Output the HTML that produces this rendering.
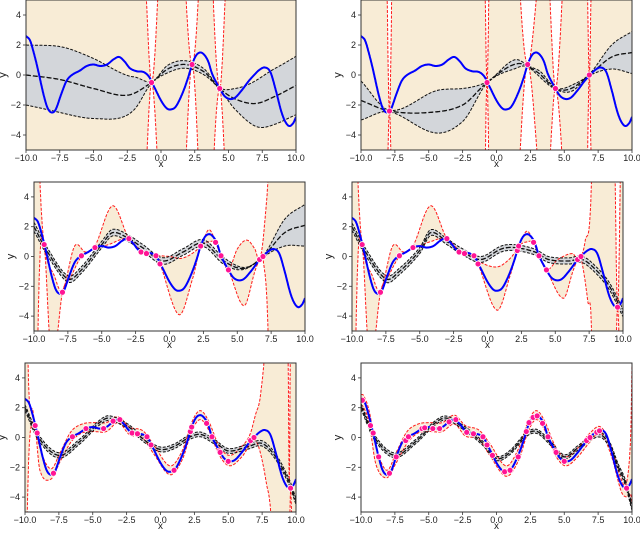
<!DOCTYPE html>
<html><head><meta charset="utf-8">
<style>
html,body{margin:0;padding:0;background:#fff;overflow:hidden;width:640px;height:533px;}
svg{display:block;font-family:"Liberation Sans","DejaVu Sans",sans-serif;}
</style></head>
<body>
<svg id="chart" width="640" height="533" viewBox="0 0 640 533" xmlns="http://www.w3.org/2000/svg"></svg>
<script>
const blueX=[-10,-9.7,-9.4,-9.1,-8.7,-8.4,-8.1,-7.8,-7.4,-7.0,-6.6,-6.0,-5.5,-5.0,-4.5,-4.0,-3.5,-3.1,-2.7,-2.3,-1.8,-1.3,-0.9,-0.5,0,0.4,0.7,1.1,1.6,2.0,2.3,2.6,2.9,3.2,3.5,3.8,4.35,4.7,5.1,5.5,6.0,6.5,6.9,7.3,7.7,8.1,8.5,8.9,9.2,9.5,9.8,10];
const blueY=[2.6,2.3,1.4,0.3,-1.3,-2.2,-2.5,-2.3,-1.3,-0.4,0.0,0.3,0.6,0.7,0.6,0.7,1.05,1.2,0.9,0.45,0.25,0.2,-0.1,-0.8,-1.7,-2.2,-2.3,-2.1,-1.2,-0.2,0.7,1.3,1.5,1.35,0.9,0.05,-0.9,-1.4,-1.6,-1.5,-1.0,-0.4,0.0,0.35,0.5,0.2,-1.0,-2.4,-3.1,-3.4,-3.2,-2.8];
const xTicks=[-10,-7.5,-5,-2.5,0,2.5,5,7.5,10];
const xTickLabels=["−10.0","−7.5","−5.0","−2.5","0.0","2.5","5.0","7.5","10.0"];
const yTicks=[-4,-2,0,2,4];
const yTickLabels=["−4","−2","0","2","4"];

const p1PtsX=[-0.7,2.3,4.35];
const p1PtsY=[-0.5,0.7,-0.9];
const p1MeanX=[-10,-7.5,-5,-2.5,-0.7,0.5,1.8,3.2,4.35,5.5,7,8.5,10];
const p1MeanY=[0,-0.3,-0.9,-1.35,-0.5,0.4,0.7,0.2,-0.9,-1.6,-1.9,-1.4,-0.7];
const p1BandX=[-10,-7,-4.5,-2,-0.7,0.5,1.8,3.2,4.35,5.5,7.5,10];
const p1BandW=[2.0,2.2,1.9,1.1,0.05,0.25,0.25,0.2,0.05,0.7,1.7,1.95];
const p1RedX=[-10,-1.3,-0.7,-0.1,0.8,1.7,2.3,2.9,3.35,3.75,4.35,4.95,10];
const p1RedUp=[40,8,-0.5,8,30,8,0.7,8,25,8,-0.9,8,40];
const p1RedLo=[-40,-9,-0.5,-9,-30,-9,0.7,-9,-25,-9,-0.9,-9,-40];

const p2PtsX=[-7.9,-0.7,2.3,4.35,6.85];
const p2PtsY=[-2.4,-0.5,0.7,-0.9,0];
const p2MeanX=[-10,-7.9,-5,-2.5,-0.7,1.5,3,4.35,5.5,6.85,8.5,10];
const p2MeanY=[-1.7,-2.4,-2.5,-2.0,-0.5,0.75,0.2,-0.9,-0.9,0,1.2,1.5];
const p2BandX=[-10,-7.9,-4.5,-2.5,-0.7,1.3,2.3,3.3,4.35,5.6,6.85,8.5,10];
const p2BandW=[1.3,0.05,1.4,1.1,0.05,0.3,0.05,0.2,0.05,0.2,0.05,0.8,1.4];
const p2RedX=[-10,-8.3,-7.9,-7.5,-4,-1.0,-0.7,-0.4,0.8,1.6,2.3,3.3,3.75,4.35,5.0,5.8,6.6,6.85,7.1,10];
const p2RedUp=[40,20,-2.4,20,40,15,-0.5,15,30,8,0.7,8,8,-0.9,8,25,12,0,12,40];
const p2RedLo=[-40,-20,-2.4,-20,-40,-15,-0.5,-15,-30,-8,0.7,-8,-8,-0.9,-8,-25,-12,0,-12,-40];

const p3PtsX=[-9.25,-7.9,-6.5,-5.5,-3,-2.1,-1.7,-1.0,-0.7,2.3,3.4,3.8,4.35,6.65,6.9];
const p3PtsY=[0.8,-2.4,0.05,0.6,1.2,0.3,0.2,0.05,-0.5,0.7,0.95,0.05,-0.9,-0.2,0];
const p3MeanX=[-10,-9,-7.5,-6.5,-5,-4.2,-3,-2,-0.5,1,2.5,4,5.5,6.9,8.5,10];
const p3MeanY=[2.0,0.3,-1.5,-0.9,0.8,1.6,1.2,0.6,-0.3,0.3,0.9,-0.3,-0.8,0,1.6,2.1];
const p3BandX=[-10,-8,-5,-2,1,4,6.9,8.5,10];
const p3BandW=[0.3,0.22,0.22,0.22,0.22,0.22,0.05,0.9,1.4];
const p3RedUpX=[-10,-9.6,-9.25,-8.5,-7.9,-7,-6.2,-5.5,-4.2,-3,-2,-1,0,1,2.3,2.9,3.4,3.8,4.35,5.0,5.7,6.3,6.65,7.0,7.4,8,10];
const p3RedUp=[20,6,0.8,-1.3,-2.3,0.7,0.3,0.7,3.4,1.2,0.4,0.1,0,-0.1,0.7,1.8,1.0,0.1,-0.9,0.5,1.1,0.5,-0.2,2,8,30,30];
const p3RedLoX=[-10,-9.6,-9.25,-8.8,-8.4,-7.9,-7.3,-6.5,-5.5,-4.5,-3,-2.1,-1,-0.7,0.7,1.7,2.3,3.0,3.4,3.8,4.35,5.5,6.3,6.65,6.9,7.3,7.7,10];
const p3RedLo=[-20,-1,0.8,-6,-6,-2.4,-1.4,0,0.5,0.8,1.2,0.3,0,-0.5,-3.9,-1.5,0.6,1.0,0.9,0,-0.9,-3.3,-1.0,-0.2,-0.1,-6,-30,-30];

const p4PtsX=[-9.25,-7.9,-6.5,-5.5,-3,-2.1,-1.7,-1.0,-0.7,2.2,2.3,3.4,3.8,4.35,6.65,6.9,9.6];
const p4PtsY=[0.8,-2.4,0.05,0.6,1.2,0.3,0.2,0.05,-0.5,0.4,0.7,0.95,0.05,-0.9,-0.2,0,-3.4];
const p4MeanX=[-10,-9,-7.5,-6.5,-5,-4.2,-3,-2,-0.5,1,2,3.5,4.5,6,7,8,9,10];
const p4MeanY=[2.0,0.3,-1.5,-1.0,0.4,1.6,1.0,0.4,-0.2,0.5,0.6,0.3,-0.2,-0.3,-0.2,-0.9,-2.0,-3.8];
const p4BandX=[-10,-5,0,5,10];
const p4BandW=[0.25,0.2,0.2,0.2,0.25];
const p4RedUpX=[-10,-9.6,-9.25,-8.5,-7.9,-7,-6.2,-5.5,-4.2,-3,-2,-1,-0.7,0.7,1.7,2.3,2.9,3.4,3.8,4.35,5.2,6.3,6.65,7.2,7.7,8,9.2,9.6,10];
const p4RedUp=[20,6,0.8,-1.3,-2.3,0.7,0.3,0.7,3.4,1.2,0.4,0.1,-0.3,-0.7,-0.1,0.7,1.7,1.0,0.1,-0.9,-0.2,0.2,-0.2,1,6,30,20,-3.4,20];
const p4RedLoX=[-10,-9.6,-9.25,-8.8,-8.4,-7.9,-7.3,-6.5,-5.5,-4.2,-3,-2,-1,-0.7,0.7,1.7,2.3,3.0,3.4,3.8,4.35,5.6,6.3,6.65,6.9,7.4,7.7,8,9.2,9.6,10];
const p4RedLo=[-20,-1,0.8,-6,-6,-2.4,-1.3,0,0.5,1.0,1.2,0.3,0,-0.5,-3.6,-1.2,0.6,1.0,0.9,0,-0.9,-2.8,-1.0,-0.2,-0.1,-3,-6,-30,-20,-3.5,-20];

const p5PtsX=[-9.25,-9.1,-7.9,-6.5,-5.5,-4.2,-3.5,-3,-2.1,-1.7,-1.0,-0.7,1.0,2.2,2.3,3.4,3.8,4.35,4.4,5.0,6.65,6.9,9.6];
const p5PtsY=[0.8,0.3,-2.4,0.05,0.6,0.6,1.1,1.2,0.3,0.25,0.05,-0.5,-2.2,0.4,0.7,0.95,0.05,-0.9,-1.0,-1.6,-0.2,0,-3.4];
const p5MeanX=[-10,-9,-7.5,-6,-4.5,-3.8,-2.5,-1,0,1,2.2,3,4,5,6.5,7.5,8.5,9.5,10];
const p5MeanY=[2.0,0,-1.2,-0.3,1.0,1.3,0.8,-0.3,-0.8,-0.6,0.05,0.2,-0.3,-0.9,-0.6,-0.4,-1.3,-3,-4.3];
const p5BandX=[-10,-5,0,5,10];
const p5BandW=[0.2,0.16,0.16,0.16,0.2];
const p5RedUpX=[-10,-9.8,-9.4,-8.9,-8.1,-7.4,-6.6,-5.8,-5,-4,-3.1,-2.3,-1.3,-0.5,0.7,1.6,2.3,2.9,3.5,4.35,5.1,6,6.6,7.0,7.4,7.8,8.5,9.3,9.5,9.7,10];
const p5RedUp=[30,6,1.7,-0.7,-2.1,-1.0,0.4,0.9,1.0,1.0,1.4,0.7,0.45,-0.5,-1.9,-0.9,1.0,1.8,1.2,-0.6,-1.2,-0.6,0.2,1.5,3,8,30,30,-3.0,30,30];
const p5RedLoX=[-10,-9.85,-9.4,-8.9,-8.1,-7.4,-6.6,-5.8,-5,-4,-3.1,-2.3,-1.3,-0.5,0.7,1.6,2.3,2.9,3.5,4.35,5.1,6,6.9,7.3,7.8,8.2,9.3,9.6,10];
const p5RedLo=[-30,-6,1.1,-2.2,-2.8,-1.6,-0.3,0.3,0.4,0.4,1.0,0.2,-0.05,-1.1,-2.5,-1.5,0.4,1.2,0.6,-1.2,-1.9,-1.3,-0.2,-0.8,-3,-6,-30,-3.6,-30];

const p6PtsX=[-9.9,-9.3,-9.1,-8.7,-7.9,-7.4,-6.7,-6.5,-5.5,-5.3,-4.7,-4.2,-3.5,-3.0,-2.2,-1.7,-1.0,-0.7,-0.3,0.6,1.0,1.6,2.2,2.4,2.7,3.0,3.4,3.8,4.35,4.4,5.0,6.65,6.9,7.4,7.6,9.6];
const p6PtsY=[2.5,0.8,0.3,-1.3,-2.4,-1.3,-0.2,0.05,0.6,0.65,0.6,0.6,1.05,1.2,0.35,0.25,0.05,-0.5,-1.2,-2.3,-2.2,-1.3,0.4,1.0,1.35,1.45,0.95,0.05,-0.9,-1.0,-1.6,-0.2,0,0.35,0.45,-3.4];
const p6MeanX=[-10,-9,-7.5,-6,-4.5,-3.7,-2.5,-1,0,1,2.2,3,4,5,6,7.5,8.3,9,9.5,10];
const p6MeanY=[2.1,0,-1.2,-0.3,1.0,1.3,0.7,-0.4,-1.4,-1.0,0.2,0.4,-0.4,-1.3,-0.7,0.2,-0.4,-2,-3.0,-4.7];
const p6BandX=[-10,-5,0,5,10];
const p6BandW=[0.18,0.14,0.14,0.14,0.2];
const p6RedUpX=[-10,-9.8,-9.4,-8.9,-8.1,-7.4,-6.6,-5.8,-5,-4,-3.1,-2.3,-1.3,-0.5,0.7,1.6,2.3,2.9,3.5,4.35,5.1,6,6.9,7.7,8.5,9.2,9.6,9.9,10];
const p6RedUp=[2.9,2.8,1.8,-0.6,-2.2,-1.0,0.4,0.9,1.0,1.0,1.5,0.8,0.5,-0.4,-1.9,-0.8,1.0,1.8,1.2,-0.6,-1.3,-0.7,0.3,0.7,-0.7,-2.8,-3.0,0,5];
const p6RedLoX=[-10,-9.8,-9.4,-8.9,-8.1,-7.4,-6.6,-5.8,-5,-4,-3.1,-2.3,-1.3,-0.5,0.7,1.6,2.3,2.9,3.5,4.35,5.1,6,6.9,7.7,8.5,9.2,9.6,9.9,10];
const p6RedLo=[2.2,2.0,1.0,-1.8,-2.7,-1.7,-0.4,0.3,0.4,0.4,0.9,0.1,-0.1,-1.2,-2.6,-1.6,0.3,1.2,0.6,-1.2,-1.9,-1.3,-0.3,0.3,-1.3,-3.6,-4.0,-3.8,-4.5];

const panels=[
 {L:26,T:0,W:270,H:150,ptsX:p1PtsX,ptsY:p1PtsY,mX:p1MeanX,mY:p1MeanY,bX:p1BandX,bW:p1BandW,ruX:p1RedX,ru:p1RedUp,rlX:p1RedX,rl:p1RedLo},
 {L:361,T:0,W:271,H:150,ptsX:p2PtsX,ptsY:p2PtsY,mX:p2MeanX,mY:p2MeanY,bX:p2BandX,bW:p2BandW,ruX:p2RedX,ru:p2RedUp,rlX:p2RedX,rl:p2RedLo},
 {L:34,T:182,W:271,H:149,ptsX:p3PtsX,ptsY:p3PtsY,mX:p3MeanX,mY:p3MeanY,bX:p3BandX,bW:p3BandW,ruX:p3RedUpX,ru:p3RedUp,rlX:p3RedLoX,rl:p3RedLo},
 {L:352,T:182,W:271,H:149,ptsX:p4PtsX,ptsY:p4PtsY,mX:p4MeanX,mY:p4MeanY,bX:p4BandX,bW:p4BandW,ruX:p4RedUpX,ru:p4RedUp,rlX:p4RedLoX,rl:p4RedLo},
 {L:25,T:363,W:271,H:149,ptsX:p5PtsX,ptsY:p5PtsY,mX:p5MeanX,mY:p5MeanY,bX:p5BandX,bW:p5BandW,ruX:p5RedUpX,ru:p5RedUp,rlX:p5RedLoX,rl:p5RedLo},
 {L:361,T:363,W:271,H:149,ptsX:p6PtsX,ptsY:p6PtsY,mX:p6MeanX,mY:p6MeanY,bX:p6BandX,bW:p6BandW,ruX:p6RedUpX,ru:p6RedUp,rlX:p6RedLoX,rl:p6RedLo}
];

function interp(xs,ys,x){
  const n=xs.length;
  if(x<=xs[0])return ys[0];
  if(x>=xs[n-1])return ys[n-1];
  let i=0;while(i<n-2&&x>xs[i+1])i++;
  const x0=xs[i],x1=xs[i+1],y0=ys[i],y1=ys[i+1],h=x1-x0;
  const m0=i>0?(y1-ys[i-1])/(x1-xs[i-1]):(y1-y0)/h;
  const m1=i<n-2?(ys[i+2]-y0)/(xs[i+2]-x0):(y1-y0)/h;
  const t=(x-x0)/h,t2=t*t,t3=t2*t;
  return (2*t3-3*t2+1)*y0+(t3-2*t2+t)*h*m0+(-2*t3+3*t2)*y1+(t3-t2)*h*m1;
}
const NS="http://www.w3.org/2000/svg";
const svg=document.getElementById('chart');
function mk(tag,attrs,parent){const e=document.createElementNS(NS,tag);for(const k in attrs)e.setAttribute(k,attrs[k]);(parent||svg).appendChild(e);return e;}
const samples=[];for(let x=-10;x<=10.0001;x+=0.02)samples.push(Math.min(x,10));
function clampY(v){return Math.max(-5.3,Math.min(5.3,v));}

panels.forEach((p,pi)=>{
  const sx=x=>p.L+(x+10)/20*p.W;
  const sy=y=>p.T+(5-y)/10*p.H;
  const g=mk('g',{});
  
  
  const cid='clip'+pi;
  const cp=mk('clipPath',{id:cid},g);
  mk('rect',{x:p.L,y:p.T,width:p.W,height:p.H},cp);
  const plot=mk('g',{'clip-path':'url(#'+cid+')'},g);
  const up=samples.map(x=>[sx(x),sy(clampY(interp(p.ruX,p.ru,x)))]);
  const lo=samples.map(x=>[sx(x),sy(clampY(interp(p.rlX,p.rl,x)))]);
  const rf=mk('polygon',{points:up.concat(lo.slice().reverse()).map(q=>q[0].toFixed(1)+','+q[1].toFixed(1)).join(' '),fill:'#f8ecd6',stroke:'none'},plot);
  
  
  const gu=samples.map(x=>[sx(x),sy(clampY(interp(p.mX,p.mY,x)+interp(p.bX,p.bW,x)))]);
  const gl=samples.map(x=>[sx(x),sy(clampY(interp(p.mX,p.mY,x)-interp(p.bX,p.bW,x)))]);
  const gf=mk('polygon',{points:gu.concat(gl.slice().reverse()).map(q=>q[0].toFixed(1)+','+q[1].toFixed(1)).join(' '),fill:'#d3d6da',stroke:'none'},plot);
  
  
  const path=pts=>'M'+pts.map(q=>q[0].toFixed(1)+','+q[1].toFixed(1)).join('L');
  [up,lo].forEach((pts,k)=>{
    const l=mk('path',{d:path(pts),fill:'none',stroke:'#ff1a1a','stroke-width':1,'stroke-dasharray':'3,1.5'},plot);
    
    
  });
  const mm=samples.map(x=>[sx(x),sy(clampY(interp(p.mX,p.mY,x)))]);
  [gu,gl,mm].forEach((pts,k)=>{
    const l=mk('path',{d:path(pts),fill:'none',stroke:'#111','stroke-width':k==2?1.3:1,'stroke-dasharray':k==2?'5,2':'3,1.5'},plot);
    
    
  });
  const bl=samples.map(x=>[sx(x),sy(clampY(interp(blueX,blueY,x)))]);
  const b=mk('path',{d:path(bl),fill:'none',stroke:'#0000ff','stroke-width':2},plot);
  
  
  p.ptsX.forEach((x,i)=>{
    const c=mk('circle',{cx:sx(x),cy:sy(p.ptsY[i]),r:3,fill:'#ff1493',stroke:'#fff','stroke-width':0.8},plot);
    
    
  });
  const fr=mk('rect',{x:p.L,y:p.T,width:p.W,height:p.H,fill:'none',stroke:'#333','stroke-width':1},g);
  
  
  xTicks.forEach((v,i)=>{
    const X=sx(v);
    mk('line',{x1:X,x2:X,y1:p.T+p.H,y2:p.T+p.H+3,stroke:'#333','stroke-width':0.8},g);
    const t=mk('text',{x:X,y:p.T+p.H+11,'font-size':9,'text-anchor':'middle',fill:'#222'},g);
    t.textContent=xTickLabels[i];
    
    
  });
  yTicks.forEach((v,i)=>{
    const Y=sy(v);
    mk('line',{x1:p.L-3,x2:p.L,y1:Y,y2:Y,stroke:'#333','stroke-width':0.8},g);
    const t=mk('text',{x:p.L-5,y:Y+3,'font-size':9,'text-anchor':'end',fill:'#222'},g);
    t.textContent=yTickLabels[i];
    
    
  });
  const xl=mk('text',{x:p.L+p.W/2,y:p.T+p.H+17,'font-size':10,'text-anchor':'middle',fill:'#222'},g);
  xl.textContent='x';
  
  
  const yx=p.L-20, yy=p.T+p.H/2;
  const yl=mk('text',{x:yx,y:yy,'font-size':11,'text-anchor':'middle',fill:'#222',transform:'rotate(-90 '+yx+' '+yy+')'},g);
  yl.textContent='y';
  
  
});
</script>
</body></html>
